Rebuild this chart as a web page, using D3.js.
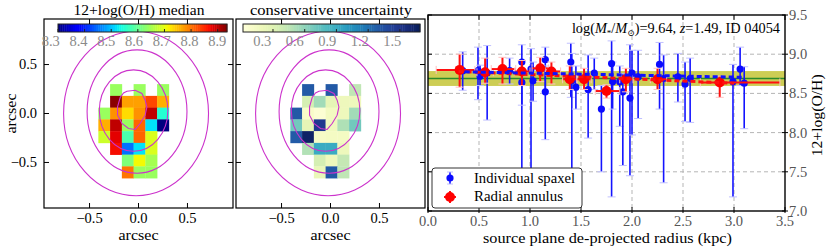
<!DOCTYPE html>
<html><head><meta charset="utf-8">
<script src="https://cdn.jsdelivr.net/npm/d3@7"></script>
<style>body{margin:0;background:#fff}svg{display:block}text{font-family:"Liberation Serif","DejaVu Serif",serif}</style>
</head><body><svg id="c" width="831" height="252"></svg>
<script>
// ---------------- DATA ----------------
// map grid (arcsec, cell centres)
const cellX = [-0.35, -0.23, -0.11, 0.01, 0.13, 0.25];
const cellY = [0.24, 0.12, 0.00, -0.12, -0.24, -0.36, -0.48, -0.60];
const cellSize = 0.12;
// 12+log(O/H) median map
const metalMap = [
  [null, 8.64, null, 8.64, null, 8.64],
  [null, 8.93, 8.77, 8.77, 8.83, 8.76],
  [8.64, 8.78, 8.73, 8.78, 8.90, 8.55],
  [8.76, 8.90, 8.64, 8.81, 8.52, 8.30],
  [8.68, 8.88, 8.58, 8.81, 8.69, null],
  [null, 8.87, 8.45, 8.52, 8.69, null],
  [null, null, 8.62, 8.71, 8.65, null],
  [null, null, 8.80, 8.64, 8.64, null]
];
// conservative uncertainty map
const uncMap = [
  [null, 1.30, null, 1.30, null, 0.44],
  [null, 0.35, 0.54, 0.25, 0.19, 0.19],
  [1.30, 0.10, 0.05, 0.15, 0.19, 0.54],
  [0.69, 0.25, 1.47, 0.17, 0.50, 0.69],
  [1.29, 1.64, 0.12, 0.14, 0.14, null],
  [null, 0.49, 0.91, 0.91, 0.19, null],
  [null, null, 0.35, 0.19, 0.42, null],
  [null, null, 0.22, 1.30, 0.44, null]
];
// contours: ellipses [cx, cy, rx, ry] in arcsec + inner polygon
const contourEllipses = [[-0.025, 0.0, 0.74, 0.84], [-0.015, 0.02, 0.51, 0.63], [-0.05, 0.03, 0.35, 0.415]];
const innerContour = [[-0.118,0.228],[-0.034,0.238],[0.035,0.204],[0.068,0.136],[0.086,0.067],[0.068,-0.017],[0.017,-0.102],[-0.034,-0.163],[-0.102,-0.153],[-0.169,-0.102],[-0.214,-0.017],[-0.214,0.067],[-0.187,0.163],[-0.153,0.21]];
const mapTicks = [-0.5, 0.0, 0.5];
const metalCbDomain = [8.3, 8.935];
const metalCbTicks = [8.3, 8.4, 8.5, 8.6, 8.7, 8.8, 8.9];
const uncCbDomain = [0.0165, 1.69];
const uncCbTicks = [0.3, 0.6, 0.9, 1.2, 1.5];

// radial profile: individual spaxels
const spaxR  = [0.34,0.49,0.51,0.58,0.80,0.92,0.92,1.01,1.03,1.15,1.15,1.40,1.41,1.45,1.57,1.63,1.70,1.80,1.81,1.88,1.91,1.98,2.00,2.06,2.27,2.31,2.45,2.52,2.57,2.99,3.06,3.10];
const spaxZ  = [8.79,8.79,8.72,8.76,8.79,8.90,8.64,8.81,8.66,8.93,8.52,8.90,8.66,8.58,8.55,8.76,8.30,8.88,8.65,8.65,8.52,8.44,8.76,8.71,8.87,8.69,8.71,8.62,8.69,8.65,8.81,8.63];
const spaxLo = [8.54,8.42,8.60,8.16,8.62,7.30,8.35,7.30,8.40,8.50,7.91,8.45,7.30,8.30,7.93,8.55,7.50,7.18,8.30,8.08,7.58,7.45,7.97,8.18,8.30,7.36,8.39,8.14,8.13,7.18,8.60,8.05];
const spaxHi = [9.03,9.09,8.86,9.11,8.95,9.12,8.92,9.07,8.90,9.09,8.85,9.14,9.01,8.85,8.99,8.95,8.60,9.17,8.90,8.85,8.75,9.12,9.05,9.05,9.15,8.99,9.01,8.90,8.95,8.87,9.09,8.84];
// radial annuli
const annR   = [0.31,0.56,0.73,0.92,1.10,1.21,1.39,1.53,1.75,1.94,2.25,2.86];
const annZ   = [8.80,8.77,8.81,8.78,8.82,8.78,8.68,8.68,8.53,8.68,8.68,8.64];
const annRlo = [0.08,0.48,0.62,0.85,1.02,1.15,1.32,1.46,1.64,1.88,2.18,2.67];
const annRhi = [0.46,0.64,0.86,1.00,1.18,1.30,1.46,1.60,1.88,2.01,2.34,3.45];
const annZlo = [8.58,8.63,8.62,8.60,8.65,8.62,8.55,8.55,8.44,8.52,8.55,8.45];
const annZhi = [9.00,8.95,8.96,8.92,8.96,8.90,8.85,8.82,8.61,8.82,8.82,8.72];
// fits and integrated value
const fitSpaxR = [0.36, 3.1], fitSpaxZ = [8.775, 8.705];
const fitAnnR  = [0.3, 3.0],  fitAnnZ  = [8.78, 8.63];
const globalZ = 8.69, globalZlo = 8.595, globalZhi = 8.785;
const profXTicks = [0.0,0.5,1.0,1.5,2.0,2.5,3.0,3.5];
const profYTicks = [7.0,7.5,8.0,8.5,9.0,9.5];
const profGridX = [0.5,1.0,1.5,2.0,2.5,3.0];
const profGridY = [7.5,8.0,8.5,9.0];

// ---------------- DRAW ----------------
const svg = d3.select('#c');
const defs = svg.append('defs');
function fitText(sel, w){ return sel.attr('textLength', w).attr('lengthAdjust', 'spacingAndGlyphs'); }
function jet(t){
  t = Math.max(0, Math.min(1, t));
  const r = t < 0.35 ? 0 : t < 0.66 ? (t-0.35)/0.31 : t < 0.89 ? 1 : 1 - 0.5*(t-0.89)/0.11;
  const g = t < 0.125 ? 0 : t < 0.375 ? (t-0.125)/0.25 : t < 0.64 ? 1 : t < 0.91 ? 1-(t-0.64)/0.27 : 0;
  const b = t < 0.11 ? 0.5 + 0.5*t/0.11 : t < 0.34 ? 1 : t < 0.65 ? 1-(t-0.34)/0.31 : 0;
  return d3.rgb(r*255, g*255, b*255).toString();
}
const metalColor = v => jet((v - metalCbDomain[0])/(metalCbDomain[1]-metalCbDomain[0]));
const uncColor = v => d3.interpolateYlGnBu((v - uncCbDomain[0])/(uncCbDomain[1]-uncCbDomain[0]));

const ext = [-0.965, 0.965];
const panels = [
  {x0:44, x1:233, y0:19, y1:208, map: metalMap, color: metalColor, title:'12+log(O/H) median', titleX: 139, titleW: 131,
   cb:{x0:58, x1:227, dom: metalCbDomain, ticks: metalCbTicks, lab:[50.7, 217.3], col: metalColor, fmt: d3.format('.1f')}, ylab:true},
  {x0:236, x1:425, y0:19, y1:208, map: uncMap, color: uncColor, title:'conservative uncertainty', titleX: 331, titleW: 162,
   cb:{x0:243, x1:420, dom: uncCbDomain, ticks: uncCbTicks, lab:[262.3, 392.3], col: uncColor, fmt: d3.format('.1f')}, ylab:false}
];

panels.forEach((P, pi) => {
  const sx = d3.scaleLinear().domain(ext).range([P.x0, P.x1]);
  const sy = d3.scaleLinear().domain(ext).range([P.y1, P.y0]);
  const cid = 'clip' + pi;
  defs.append('clipPath').attr('id', cid).append('rect').attr('x', P.x0).attr('y', P.y0).attr('width', P.x1-P.x0).attr('height', P.y1-P.y0);
  const g = svg.append('g');
  P.map.forEach((row, i) => row.forEach((v, j) => {
    if (v === null) return;
    const x0 = sx(cellX[j]-cellSize/2), x1 = sx(cellX[j]+cellSize/2);
    const y0 = sy(cellY[i]+cellSize/2), y1 = sy(cellY[i]-cellSize/2);
    g.append('rect').attr('x', x0).attr('y', y0).attr('width', x1-x0+0.3).attr('height', y1-y0+0.3).attr('fill', P.color(v));
  }));
  const cg = g.append('g').attr('clip-path', `url(#${cid})`);
  contourEllipses.forEach(c => {
    cg.append('ellipse').attr('cx', sx(c[0])).attr('cy', sy(c[1]))
      .attr('rx', sx(c[2]) - sx(0)).attr('ry', sy(0) - sy(c[3]))
      .attr('fill', 'none').attr('stroke', '#cc33cc').attr('stroke-width', 1.1);
  });
  cg.append('path').attr('d', d3.line().x(d => sx(d[0])).y(d => sy(d[1])).curve(d3.curveLinearClosed)(innerContour))
    .attr('fill', 'none').attr('stroke', '#cc33cc').attr('stroke-width', 1.1);
  g.append('rect').attr('x', P.x0).attr('y', P.y0).attr('width', P.x1-P.x0).attr('height', P.y1-P.y0)
    .attr('fill', 'none').attr('stroke', '#000').attr('stroke-width', 1.2);
  mapTicks.forEach(t => {
    g.append('line').attr('x1', sx(t)).attr('x2', sx(t)).attr('y1', P.y1).attr('y2', P.y1-5).attr('stroke', '#000');
    g.append('line').attr('y1', sy(t)).attr('y2', sy(t)).attr('x1', P.x0).attr('x2', P.x0+5).attr('stroke', '#000');
    g.append('line').attr('y1', sy(t)).attr('y2', sy(t)).attr('x1', P.x1).attr('x2', P.x1-5).attr('stroke', '#000');
    g.append('text').attr('x', sx(t)).attr('y', 223).attr('text-anchor', 'middle').attr('font-size', 14.5).text(d3.format('.1f')(t));
    if (P.ylab) g.append('text').attr('x', 37).attr('y', sy(t)+4.5).attr('text-anchor', 'end').attr('font-size', 14.5).text(d3.format('.1f')(t));
  });
  fitText(g.append('text').attr('x', sx(0)).attr('y', 240).attr('text-anchor', 'middle').attr('font-size', 14.5).text('arcsec'), 40);
  if (P.ylab) fitText(g.append('text').attr('transform', `translate(16,${sy(0)}) rotate(-90)`).attr('text-anchor', 'middle').attr('font-size', 14.5).text('arcsec'), 40);
  fitText(g.append('text').attr('x', P.titleX).attr('y', 15).attr('text-anchor', 'middle').attr('font-size', 14.5).text(P.title), P.titleW);
  const cb = P.cb;
  const cx = d3.scaleLinear().domain(cb.dom).range([cb.x0, cb.x1]);
  const n = 80;
  for (let k = 0; k < n; k++) {
    const v0 = cb.dom[0] + (cb.dom[1]-cb.dom[0])*k/n, v1 = cb.dom[0] + (cb.dom[1]-cb.dom[0])*(k+1)/n;
    g.append('rect').attr('x', cx(v0)).attr('y', 24).attr('width', cx(v1)-cx(v0)+0.4).attr('height', 8)
      .attr('fill', cb.col((v0+v1)/2));
  }
  g.append('rect').attr('x', cb.x0).attr('y', 24).attr('width', cb.x1-cb.x0).attr('height', 8).attr('fill', 'none').attr('stroke', '#222').attr('stroke-width', 1);
  const lx = d3.scaleLinear().domain([cb.ticks[0], cb.ticks[cb.ticks.length-1]]).range(cb.lab);
  cb.ticks.forEach(t => {
    g.append('line').attr('x1', cx(t)).attr('x2', cx(t)).attr('y1', 32).attr('y2', 29).attr('stroke', '#222');
    g.append('text').attr('x', lx(t)).attr('y', 45.5).attr('text-anchor', 'middle').attr('font-size', 14.5).attr('fill', '#8a8a8a').text(cb.fmt(t));
  });
  mapTicks.forEach(t => g.append('line').attr('x1', sx(t)).attr('x2', sx(t)).attr('y1', P.y0).attr('y2', 24).attr('stroke', '#000'));
});

// ---------------- radial profile ----------------
const X0 = 428, X1 = 785, Y0 = 15, Y1 = 211;
const px = d3.scaleLinear().domain([0, 3.5]).range([X0, X1]);
const py = d3.scaleLinear().domain([7.0, 9.5]).range([Y1, Y0]);
const g3 = svg.append('g');
defs.append('clipPath').attr('id', 'clip3').append('rect').attr('x', X0).attr('y', Y0).attr('width', X1-X0).attr('height', Y1-Y0);
const gc = g3.append('g').attr('clip-path', 'url(#clip3)');
profGridX.forEach(t => gc.append('line').attr('x1', px(t)).attr('x2', px(t)).attr('y1', Y0).attr('y2', Y1).attr('stroke', '#b5b5b5').attr('stroke-dasharray', '4,3'));
profGridY.forEach(t => gc.append('line').attr('y1', py(t)).attr('y2', py(t)).attr('x1', X0).attr('x2', X1).attr('stroke', '#b5b5b5').attr('stroke-dasharray', '4,3'));
gc.append('rect').attr('x', X0).attr('width', X1-X0).attr('y', py(globalZhi)).attr('height', py(globalZlo)-py(globalZhi)).attr('fill', '#c4c436').attr('opacity', 0.85);
gc.append('line').attr('x1', X0).attr('x2', X1).attr('y1', py(globalZ)).attr('y2', py(globalZ)).attr('stroke', '#2a8a2a').attr('stroke-width', 1.5);
spaxR.forEach((r, i) => {
  gc.append('line').attr('x1', px(r)).attr('x2', px(r)).attr('y1', py(spaxLo[i])).attr('y2', py(spaxHi[i])).attr('stroke', '#1414ff').attr('stroke-width', 1.6);
  [spaxLo[i], spaxHi[i]].forEach(v => gc.append('line').attr('x1', px(r)-4).attr('x2', px(r)+4).attr('y1', py(v)).attr('y2', py(v)).attr('stroke', '#c0c0ff').attr('stroke-width', 1));
});
spaxR.forEach((r, i) => gc.append('circle').attr('cx', px(r)).attr('cy', py(spaxZ[i])).attr('r', 3.6).attr('fill', '#0a0aff'));
annR.forEach((r, i) => {
  gc.append('line').attr('x1', px(annRlo[i])).attr('x2', px(annRhi[i])).attr('y1', py(annZ[i])).attr('y2', py(annZ[i])).attr('stroke', '#ff1010').attr('stroke-width', 2);
  gc.append('line').attr('x1', px(r)).attr('x2', px(r)).attr('y1', py(annZlo[i])).attr('y2', py(annZhi[i])).attr('stroke', '#ff1010').attr('stroke-width', 2);
  [annZlo[i], annZhi[i]].forEach(v => gc.append('line').attr('x1', px(r)-4).attr('x2', px(r)+4).attr('y1', py(v)).attr('y2', py(v)).attr('stroke', '#ffc0c0'));
  [annRlo[i], annRhi[i]].forEach(v => gc.append('line').attr('x1', px(v)).attr('x2', px(v)).attr('y1', py(annZ[i])-4).attr('y2', py(annZ[i])+4).attr('stroke', '#ffc0c0'));
});
annR.forEach((r, i) => gc.append('circle').attr('cx', px(r)).attr('cy', py(annZ[i])).attr('r', 5).attr('fill', '#ff0000'));
gc.append('line').attr('x1', px(fitAnnR[0])).attr('x2', px(fitAnnR[1])).attr('y1', py(fitAnnZ[0])).attr('y2', py(fitAnnZ[1])).attr('stroke', '#ff1010').attr('stroke-width', 3).attr('stroke-dasharray', '5,3');
gc.append('line').attr('x1', px(fitSpaxR[0])).attr('x2', px(fitSpaxR[1])).attr('y1', py(fitSpaxZ[0])).attr('y2', py(fitSpaxZ[1])).attr('stroke', '#1010ff').attr('stroke-width', 3).attr('stroke-dasharray', '5,3');
g3.append('rect').attr('x', X0).attr('y', Y0).attr('width', X1-X0).attr('height', Y1-Y0).attr('fill', 'none').attr('stroke', '#000').attr('stroke-width', 1.4);
profXTicks.forEach(t => {
  g3.append('line').attr('x1', px(t)).attr('x2', px(t)).attr('y1', Y1+2).attr('y2', Y1-4).attr('stroke', '#000');
  g3.append('line').attr('x1', px(t)).attr('x2', px(t)).attr('y1', Y0).attr('y2', Y0+5).attr('stroke', '#000');
  g3.append('text').attr('x', px(t)).attr('y', 226).attr('text-anchor', 'middle').attr('font-size', 14.5).attr('fill', '#555').text(d3.format('.1f')(t));
});
profYTicks.forEach(t => {
  g3.append('line').attr('y1', py(t)).attr('y2', py(t)).attr('x1', X0).attr('x2', X0+4).attr('stroke', '#000');
  g3.append('line').attr('y1', py(t)).attr('y2', py(t)).attr('x1', X1-3).attr('x2', X1+3).attr('stroke', '#000');
  g3.append('text').attr('x', 789).attr('y', py(t)+5).attr('font-size', 14.5).attr('fill', '#555').text(d3.format('.1f')(t));
});
fitText(g3.append('text').attr('x', 607.5).attr('y', 243).attr('text-anchor', 'middle').attr('font-size', 15).text('source plane de-projected radius (kpc)'), 249);
fitText(g3.append('text').attr('transform', `translate(822,${py(8.22)}) rotate(-90)`).attr('text-anchor', 'middle').attr('font-size', 15).text('12+log(O/H)'), 82);
const ann = g3.append('text').attr('x', 780).attr('y', 33).attr('text-anchor', 'end').attr('font-size', 14.3);
ann.append('tspan').text('log(');
ann.append('tspan').attr('font-style', 'italic').text('M');
ann.append('tspan').attr('font-size', 9).attr('dy', 3).text('*');
ann.append('tspan').attr('dy', -3).text('/');
ann.append('tspan').attr('font-style', 'italic').text('M');
ann.append('tspan').attr('font-size', 9).attr('dy', 3).text('⊙');
ann.append('tspan').attr('dy', -3).text(')=9.64, ');
ann.append('tspan').attr('font-style', 'italic').text('z');
ann.append('tspan').text('=1.49, ID 04054');
const lg = g3.append('g');
lg.append('rect').attr('x', 432).attr('y', 168).attr('width', 150).attr('height', 40).attr('rx', 3).attr('fill', '#fff').attr('stroke', '#333').attr('stroke-width', 1);
lg.append('line').attr('x1', 450).attr('x2', 450).attr('y1', 172).attr('y2', 184).attr('stroke', '#1414ff').attr('stroke-width', 1.6);
[172, 184].forEach(y => lg.append('line').attr('x1', 447).attr('x2', 453).attr('y1', y).attr('y2', y).attr('stroke', '#c0c0ff'));
lg.append('circle').attr('cx', 450).attr('cy', 178).attr('r', 3.6).attr('fill', '#0a0aff');
fitText(lg.append('text').attr('x', 474).attr('y', 183).attr('font-size', 15).text('Individual spaxel'), 101);
lg.append('line').attr('x1', 450).attr('x2', 450).attr('y1', 191).attr('y2', 203).attr('stroke', '#ff1010').attr('stroke-width', 2);
lg.append('line').attr('x1', 444).attr('x2', 456).attr('y1', 197).attr('y2', 197).attr('stroke', '#ff1010').attr('stroke-width', 2);
lg.append('circle').attr('cx', 450).attr('cy', 197).attr('r', 5).attr('fill', '#ff0000');
fitText(lg.append('text').attr('x', 474).attr('y', 201).attr('font-size', 15).text('Radial annulus'), 89);
</script></body></html>
